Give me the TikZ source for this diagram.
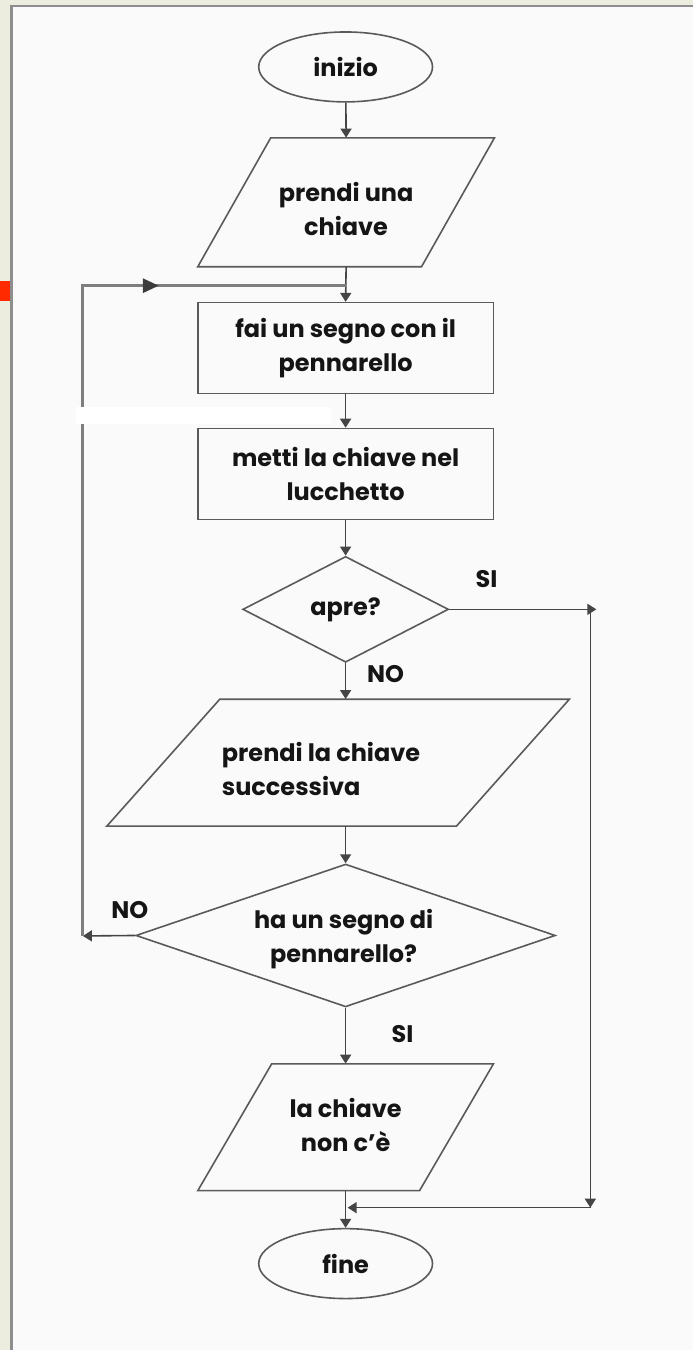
\documentclass[tikz,border=0pt]{standalone}
\usepackage{fontspec}
\setmainfont{Poppins}
\usetikzlibrary{arrows.meta,shapes.geometric,calc}

\definecolor{paper}{HTML}{ECECDF}
\definecolor{panel}{HTML}{FAFAFA}
\definecolor{rim}{HTML}{8E8E8E}
\definecolor{lineC}{HTML}{5A5A5A}
\definecolor{flowC}{HTML}{454545}
\definecolor{loopC}{HTML}{7E7E7E}
\definecolor{tipC}{HTML}{3C3C3C}
\definecolor{ink}{HTML}{151515}
\definecolor{marker}{HTML}{FF2A00}

\tikzset{
  outline/.style={draw=lineC, line width=1.6pt, line join=miter},
  flow/.style={draw=flowC, line width=1.6pt, -{Triangle[length=9pt,width=11pt]}},
  loopline/.style={draw=loopC, line width=3pt},
  txt/.style={font=\bfseries\fontsize{24}{34}\selectfont, text=ink, align=center, inner sep=0pt},
  lbl/.style={font=\bfseries\fontsize{24}{26}\selectfont, text=ink, inner sep=0pt},
  term/.style={ellipse, outline, minimum width=174pt, minimum height=70pt, inner sep=0pt, txt},
  procbox/.style={rectangle, outline, minimum width=296pt, minimum height=91pt, inner sep=0pt, txt},
  frame/.style={rectangle, draw=none, inner sep=0pt, minimum width=10pt},
  choice/.style={diamond, outline, inner sep=0pt, txt},
}

\begin{document}
\begin{tikzpicture}[x=1pt,y=-1pt]
  % page background, panel and rims
  \fill[paper] (0,0) rectangle (694,1351);
  \fill[panel] (12,7) rectangle (694,1351);
  \draw[rim, line width=3pt] (11.2,5.5) -- (11.2,1351);
  \draw[rim, line width=2.5pt] (10,6) -- (694,6);
  \fill[marker] (0,281) rectangle (10,301);
  \useasboundingbox (0,0) rectangle (694,1351);

  % terminals
  \node[term] (start) at (346,67) {inizio};
  \node[term] (stop) at (346,1265) {fine};

  % input: take a key
  \node[frame, minimum height=129pt] (p1) at (346.5,202.5) {};
  \draw[outline] ($(p1)+(-75.5,-64.5)$) -- ($(p1)+(148.5,-64.5)$)
    -- ($(p1)+(75.5,64.5)$) -- ($(p1)+(-148.5,64.5)$) -- cycle;
  \node[txt] (p1t) at (346.5,209) {prendi una\\chiave};

  % actions
  \node[procbox] (b1) at (346,348.5) {fai un segno con il\\pennarello};
  \node[procbox] (b2) at (346,474.5) {metti la chiave nel\\lucchetto};

  % first decision
  \node[choice, minimum width=206pt, minimum height=106pt, shape aspect=1.94] (d1) at (346,610) {apre?};

  % input: next key
  \node[frame, minimum height=127pt] (p2) at (346,763.5) {};
  \draw[outline] ($(p2)+(-126,-63.5)$) -- ($(p2)+(224,-63.5)$)
    -- ($(p2)+(111,63.5)$) -- ($(p2)+(-239,63.5)$) -- cycle;
  \node[txt, align=left, anchor=west] (p2t) at (222,770) {prendi la chiave\\successiva};

  % second decision
  \node[choice, minimum width=420pt, minimum height=143pt, shape aspect=2.94] (d2) at (346,936.5) {};
  \node[txt] (d2t) at (344,940.5) {ha un segno di\\pennarello?};

  % output: key missing
  \node[frame, minimum height=127pt] (p3) at (346,1128.5) {};
  \draw[outline] ($(p3)+(-74,-63.5)$) -- ($(p3)+(148,-63.5)$)
    -- ($(p3)+(74,63.5)$) -- ($(p3)+(-148,63.5)$) -- cycle;
  \node[txt] (p3t) at (346,1126.5) {la chiave\\non c'è};

  % helper points of the side branches
  \coordinate (jt) at (346,286);
  \coordinate (jn) at (348,1209);
  \coordinate (rTop) at (597,610);
  \coordinate (rTopV) at (591,610);
  \coordinate (rBot) at (591,1209);
  \coordinate (lCorner) at (83,937);
  \coordinate (lTop) at (83,286);
  \coordinate (lTip) at (159,286);

  % main flow
  \draw[flow] (start) -- (p1.north);
  \draw[flow] (p1.south) -- (b1.north);
  \draw[flow] (b1) -- (b2);
  \draw[flow] (b2) -- (d1);
  \draw[flow] (d1) -- (p2.north);
  \draw[flow] (p2.south) -- (d2);
  \draw[flow] (d2) -- (p3.north);
  \draw[flow] (p3.south) -- (stop);

  % yes branch of the first decision
  \draw[flow] (d1.east) -- (rTop);
  \draw[flow] (rTopV) -- (rBot);
  \draw[flow] ($(rBot)+(1,0)$) -- (jn);

  % no branch of the second decision, back to the top
  \draw[flow] (d2.west) -- (lCorner);
  \draw[loopline] (lCorner) -- (lTop) -- (jt);
  \draw[loopline, -{Triangle[length=16pt,width=14pt,color=tipC]}] (lTop) -- (lTip);

  % highlight band across the loop line
  \fill[white] (76,407) rectangle (331,424);

  % branch labels
  \node[lbl] (si1) at (487,580) {SI};
  \node[lbl] (no1) at (386,675) {NO};
  \node[lbl] (no2) at (130,911) {NO};
  \node[lbl] (si2) at (403,1035) {SI};
\end{tikzpicture}
\end{document}
